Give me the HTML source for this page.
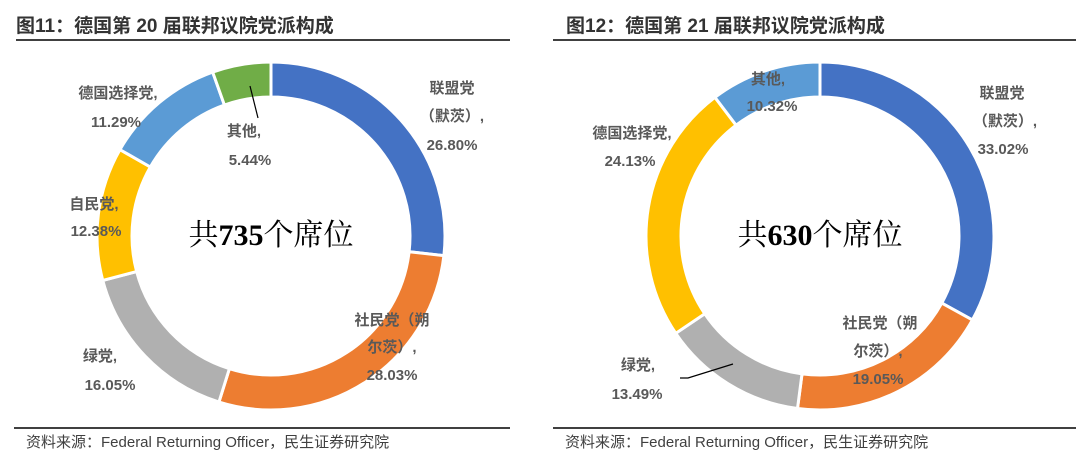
<!DOCTYPE html><html><head><meta charset="utf-8"><style>
body{margin:0;width:1080px;height:462px;background:#fff;overflow:hidden;font-family:"Liberation Sans","Noto Sans CJK SC",sans-serif}
.t{position:absolute;font-weight:bold;font-size:19px;color:#333;top:11px}
.l{position:absolute;height:2px;background:#404040}
.s{position:absolute;font-size:15px;color:#404040;top:431px}
svg{position:absolute;left:0;top:0}
text{font-family:"Liberation Sans","Noto Sans CJK SC",sans-serif;font-weight:bold;font-size:15px;fill:#595959}
</style></head><body>
<div class="t" style="left:16px">图11：德国第 20 届联邦议院党派构成</div>
<div class="t" style="left:566px">图12：德国第 21 届联邦议院党派构成</div>
<div class="l" style="left:16px;width:494px;top:39px"></div>
<div class="l" style="left:553px;width:523px;top:39px"></div>
<div class="l" style="left:14px;width:496px;top:427px"></div>
<div class="l" style="left:553px;width:523px;top:427px"></div>
<div class="s" style="left:26px">资料来源：Federal Returning Officer，民生证券研究院</div>
<div class="s" style="left:565px">资料来源：Federal Returning Officer，民生证券研究院</div>
<svg id="g" width="1080" height="462">
<g text-anchor="middle">
<text x="452" y="93">联盟党</text><text x="452" y="121">（默茨）,</text><text x="452" y="150">26.80%</text>
<text x="392" y="325">社民党（朔</text><text x="392" y="352">尔茨）,</text><text x="392" y="380">28.03%</text>
<text x="100" y="361">绿党,</text><text x="110" y="390">16.05%</text>
<text x="94" y="209">自民党,</text><text x="96" y="236">12.38%</text>
<text x="118" y="98">德国选择党,</text><text x="116" y="127">11.29%</text>
<text x="244" y="136">其他,</text><text x="250" y="165">5.44%</text>
<text x="1002" y="98">联盟党</text><text x="1005" y="126">（默茨）,</text><text x="1003" y="154">33.02%</text>
<text x="880" y="328">社民党（朔</text><text x="878" y="356">尔茨）,</text><text x="878" y="384">19.05%</text>
<text x="638" y="370">绿党,</text><text x="637" y="399">13.49%</text>
<text x="632" y="138">德国选择党,</text><text x="630" y="166">24.13%</text>
<text x="768" y="84">其他,</text><text x="772" y="111">10.32%</text>
</g>
<text x="271" y="245" text-anchor="middle" style="font-family:'Liberation Serif','Noto Serif CJK SC',serif;font-size:30px;fill:#000;font-weight:normal">共<tspan font-weight="bold">735</tspan>个席位</text>
<text x="820" y="245" text-anchor="middle" style="font-family:'Liberation Serif','Noto Serif CJK SC',serif;font-size:30px;fill:#000;font-weight:normal">共<tspan font-weight="bold">630</tspan>个席位</text>
</svg>
<script>
var C=["#4472C4","#ED7D31","#B0B0B0","#FFC000","#5B9BD5","#70AD47"];
function donut(cx,cy,R,r,vals,cols){var g=document.getElementById('g'),a=0,tot=vals.reduce((x,y)=>x+y);
var first=g.firstChild;
vals.forEach(function(v,i){var a0=a/tot*2*Math.PI,a1=(a+v)/tot*2*Math.PI;a+=v;
function p(rr,t){return [cx+rr*Math.sin(t),cy-rr*Math.cos(t)]}
var L=(a1-a0)>Math.PI?1:0,P1=p(R,a0),P2=p(R,a1),P3=p(r,a1),P4=p(r,a0);
var e=document.createElementNS('http://www.w3.org/2000/svg','path');
e.setAttribute('d','M'+P1+'A'+R+','+R+' 0 '+L+' 1 '+P2+'L'+P3+'A'+r+','+r+' 0 '+L+' 0 '+P4+'Z');
e.setAttribute('fill',cols[i]);e.setAttribute('stroke','#fff');e.setAttribute('stroke-width','3');
g.insertBefore(e,first);});}
donut(271,236,174,139,[26.80,28.03,16.05,12.38,11.29,5.44],C);
donut(820,236,174,139,[33.02,19.05,13.49,24.13,10.32],["#4472C4","#ED7D31","#B0B0B0","#FFC000","#5B9BD5"]);
var g=document.getElementById('g');
function ln(d){var e=document.createElementNS('http://www.w3.org/2000/svg','path');e.setAttribute('d',d);e.setAttribute('stroke','#000');e.setAttribute('fill','none');e.setAttribute('stroke-width','1.2');g.appendChild(e);}
ln('M250,86L258,118');ln('M680,378L688,378L733,364');
</script>
</body></html>
